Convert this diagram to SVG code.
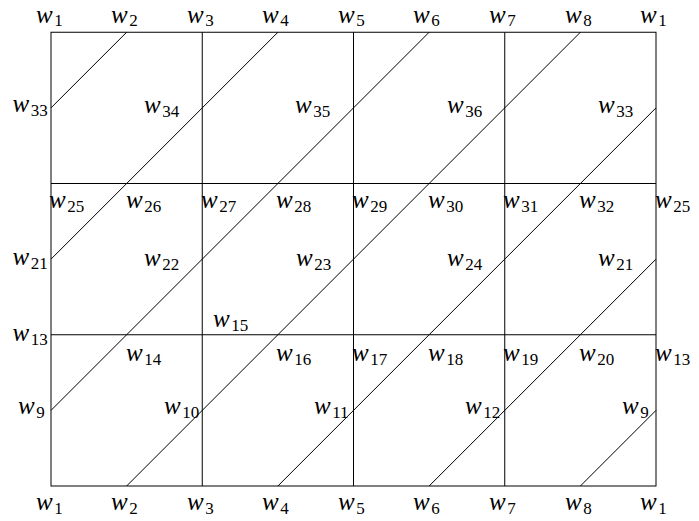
<svg xmlns="http://www.w3.org/2000/svg" width="699" height="521" viewBox="0 0 699 521">
<style>
.g{stroke:#000;stroke-width:1;fill:none}
.l{font-family:"Liberation Serif","DejaVu Serif",serif;font-style:italic;font-size:25px;fill:#000}
.s{font-family:"Liberation Serif","DejaVu Serif",serif;font-style:normal;font-size:17px}
</style>
<rect width="699" height="521" fill="#fff"/>
<g id="grid" class="g">
<rect x="51" y="32.25" width="605" height="453.75"/>
<line x1="202.25" y1="32.25" x2="202.25" y2="486"/>
<line x1="353.5" y1="32.25" x2="353.5" y2="486"/>
<line x1="504.75" y1="32.25" x2="504.75" y2="486"/>
<line x1="51" y1="183.5" x2="656" y2="183.5"/>
<line x1="51" y1="334.75" x2="656" y2="334.75"/>
</g>
<g id="connectors" class="g">
<line x1="51" y1="107.875" x2="126.625" y2="32.25"/>
<line x1="51" y1="259.125" x2="277.875" y2="32.25"/>
<line x1="51" y1="410.375" x2="429.125" y2="32.25"/>
<line x1="126.625" y1="486" x2="580.375" y2="32.25"/>
<line x1="277.875" y1="486" x2="656" y2="107.875"/>
<line x1="429.125" y1="486" x2="656" y2="259.125"/>
<line x1="580.375" y1="486" x2="656" y2="410.375"/>
</g>
<g id="labels" class="l">
<g id="top">
<text x="36" y="22.5">w<tspan class="s" dx="1.5" dy="3">1</tspan></text>
<text x="111" y="22.5">w<tspan class="s" dx="1.5" dy="3">2</tspan></text>
<text x="187" y="22.5">w<tspan class="s" dx="1.5" dy="3">3</tspan></text>
<text x="262" y="22.5">w<tspan class="s" dx="1.5" dy="3">4</tspan></text>
<text x="338" y="22.5">w<tspan class="s" dx="1.5" dy="3">5</tspan></text>
<text x="413" y="22.5">w<tspan class="s" dx="1.5" dy="3">6</tspan></text>
<text x="489" y="22.5">w<tspan class="s" dx="1.5" dy="3">7</tspan></text>
<text x="565" y="22.5">w<tspan class="s" dx="1.5" dy="3">8</tspan></text>
<text x="640" y="22.5">w<tspan class="s" dx="1.5" dy="3">1</tspan></text>
</g>
<g id="row1">
<text x="12.5" y="112">w<tspan class="s" dx="1.5" dy="3.5">33</tspan></text>
<text x="144" y="113">w<tspan class="s" dx="1.5" dy="3.5">34</tspan></text>
<text x="295" y="113">w<tspan class="s" dx="1.5" dy="3.5">35</tspan></text>
<text x="447" y="113">w<tspan class="s" dx="1.5" dy="3.5">36</tspan></text>
<text x="598" y="113">w<tspan class="s" dx="1.5" dy="3.5">33</tspan></text>
</g>
<g id="row2">
<text x="49" y="208">w<tspan class="s" dx="1.5" dy="3.5">25</tspan></text>
<text x="126" y="208">w<tspan class="s" dx="1.5" dy="3.5">26</tspan></text>
<text x="201" y="208">w<tspan class="s" dx="1.5" dy="3.5">27</tspan></text>
<text x="276" y="208">w<tspan class="s" dx="1.5" dy="3.5">28</tspan></text>
<text x="352" y="208">w<tspan class="s" dx="1.5" dy="3.5">29</tspan></text>
<text x="428" y="208">w<tspan class="s" dx="1.5" dy="3.5">30</tspan></text>
<text x="503" y="208">w<tspan class="s" dx="1.5" dy="3.5">31</tspan></text>
<text x="579" y="208">w<tspan class="s" dx="1.5" dy="3.5">32</tspan></text>
<text x="655" y="208">w<tspan class="s" dx="1.5" dy="3.5">25</tspan></text>
</g>
<g id="row3">
<text x="12.5" y="265">w<tspan class="s" dx="1.5" dy="3.5">21</tspan></text>
<text x="144" y="266">w<tspan class="s" dx="1.5" dy="3.5">22</tspan></text>
<text x="296" y="266">w<tspan class="s" dx="1.5" dy="3.5">23</tspan></text>
<text x="447" y="266">w<tspan class="s" dx="1.5" dy="3.5">24</tspan></text>
<text x="598" y="266">w<tspan class="s" dx="1.5" dy="3.5">21</tspan></text>
</g>
<g id="row4">
<text x="12.5" y="341">w<tspan class="s" dx="1.5" dy="3.5">13</tspan></text>
<text x="213" y="327">w<tspan class="s" dx="1.5" dy="3.5">15</tspan></text>
<text x="126" y="361">w<tspan class="s" dx="1.5" dy="3.5">14</tspan></text>
<text x="276" y="361">w<tspan class="s" dx="1.5" dy="3.5">16</tspan></text>
<text x="352" y="361">w<tspan class="s" dx="1.5" dy="3.5">17</tspan></text>
<text x="428" y="361">w<tspan class="s" dx="1.5" dy="3.5">18</tspan></text>
<text x="503" y="361">w<tspan class="s" dx="1.5" dy="3.5">19</tspan></text>
<text x="579" y="361">w<tspan class="s" dx="1.5" dy="3.5">20</tspan></text>
<text x="655" y="361">w<tspan class="s" dx="1.5" dy="3.5">13</tspan></text>
</g>
<g id="row5">
<text x="18" y="414">w<tspan class="s" dx="1.5" dy="3.5">9</tspan></text>
<text x="164" y="414">w<tspan class="s" dx="1.5" dy="3.5">10</tspan></text>
<text x="314" y="414">w<tspan class="s" dx="1.5" dy="3.5">11</tspan></text>
<text x="465" y="414">w<tspan class="s" dx="1.5" dy="3.5">12</tspan></text>
<text x="622" y="414">w<tspan class="s" dx="1.5" dy="3.5">9</tspan></text>
</g>
<g id="bottom">
<text x="36" y="510">w<tspan class="s" dx="1.5" dy="3.5">1</tspan></text>
<text x="111" y="510">w<tspan class="s" dx="1.5" dy="3.5">2</tspan></text>
<text x="187" y="510">w<tspan class="s" dx="1.5" dy="3.5">3</tspan></text>
<text x="262" y="510">w<tspan class="s" dx="1.5" dy="3.5">4</tspan></text>
<text x="338" y="510">w<tspan class="s" dx="1.5" dy="3.5">5</tspan></text>
<text x="413" y="510">w<tspan class="s" dx="1.5" dy="3.5">6</tspan></text>
<text x="489" y="510">w<tspan class="s" dx="1.5" dy="3.5">7</tspan></text>
<text x="565" y="510">w<tspan class="s" dx="1.5" dy="3.5">8</tspan></text>
<text x="640" y="510">w<tspan class="s" dx="1.5" dy="3.5">1</tspan></text>
</g>
</g>
</svg>
